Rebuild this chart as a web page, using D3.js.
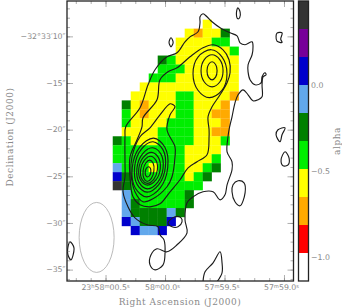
<!DOCTYPE html>
<html>
<head>
<meta charset="utf-8">
<script src="https://cdn.jsdelivr.net/npm/d3@7"></script>
<style>
  body { margin: 0; background: #fff; }
  text { fill: #8a8a8a; font-family: "DejaVu Sans", sans-serif; font-size: 7.8px; }
  .title { font-family: "DejaVu Serif", serif; font-size: 9px; letter-spacing: 0.55px; }
</style>
</head>
<body>
<script>
// spectral index map with radio contours

// alpha value of each map pixel, one row per declination step
var K = 0.4, B = 0.08, L = -0.08, D = -0.25, G = -0.4, Y = -0.57, O = -0.73, n = null;
var alphaRows = [
  [n, n, n, n, n, n, n, n, n, n, Y, n, n, n],
  [n, n, n, n, n, n, n, n, Y, O, Y, Y, D, n],
  [n, n, n, n, n, n, n, Y, Y, Y, Y, G, G, n],
  [n, n, n, n, n, n, n, Y, Y, Y, Y, Y, Y, G],
  [n, n, n, n, n, D, G, Y, Y, Y, Y, Y, Y, Y],
  [n, n, n, n, n, G, G, G, Y, Y, Y, Y, Y, Y],
  [n, n, n, n, G, G, G, Y, Y, Y, Y, Y, Y, Y],
  [n, n, n, Y, Y, Y, Y, Y, Y, Y, Y, Y, Y, Y],
  [n, n, Y, Y, Y, Y, Y, G, G, Y, Y, Y, Y, O],
  [n, D, Y, O, Y, Y, Y, G, G, Y, Y, Y, O, n],
  [n, G, Y, O, Y, Y, Y, G, G, Y, Y, O, O, n],
  [n, G, Y, Y, Y, Y, G, G, G, Y, Y, Y, O, n],
  [n, Y, Y, Y, Y, G, G, G, G, Y, Y, O, O, n],
  [D, G, Y, Y, Y, G, G, G, G, Y, Y, Y, G, n],
  [G, G, G, G, G, G, G, G, Y, Y, Y, Y, n, n],
  [G, G, G, G, G, G, G, G, Y, Y, Y, G, n, n],
  [L, G, G, G, Y, G, G, G, Y, Y, G, D, n, n],
  [B, D, G, G, G, G, G, G, Y, G, D, n, n, n],
  [K, D, G, G, G, G, G, G, G, G, n, n, n, n],
  [n, L, G, G, G, G, G, G, D, n, n, n, n, n],
  [n, L, D, G, G, G, G, G, D, n, n, n, n, n],
  [n, L, D, D, D, D, L, D, n, n, n, n, n, n],
  [n, B, L, D, D, D, B, n, n, n, n, n, n, n],
  [n, n, B, L, L, B, n, n, n, n, n, n, n, n]
];
var bandColors = ["#ffffff", "#ff0000", "#ffaa00", "#ffff00", "#00ee00", "#008000", "#62a8ec", "#0000cc", "#770099", "#333333"];
var alphaTicks = [0, -0.5, -1];

// contours: arcsec west of 58m00.0s, arcsec south of -32d33m
var contourOuter = [[-4.21,19.69],[-2.68,17.66],[-1.82,15.19],[-1.07,13.58],[0.21,12.19],[1.29,11.76],[2.14,10.58],[2.68,10.05],[3.54,9.51],[3.75,8.54],[3.75,7.9],[4.07,7.58],[4.5,7.9],[5.04,8.44],[5.9,9.08],[6.97,9.62],[7.72,9.94],[8.04,10.69],[8.58,10.9],[9.33,10.58],[9.43,11.12],[9.33,11.97],[8.9,13.05],[8.9,13.8],[9.11,14.65],[9.65,15.19],[10.29,14.98],[10.4,14.33],[10.72,13.9],[10.83,14.12],[10.51,14.33],[10.4,15.19],[10.4,16.48],[9.97,16.8],[9.43,16.91],[8.9,16.26],[8.36,15.73],[7.83,16.26],[7.5,17.12],[7.18,18.62],[6.86,20.01],[6.75,20.76],[6.65,22.37],[7.18,23.44],[7.18,24.3],[6.65,25.91],[6.43,26.98],[5.9,27.52],[5.15,26.66],[4.07,26.66],[3,27.2],[2.36,27.84],[2.14,29.66],[2.36,31.06],[1.29,32.34],[0.21,33.09],[-0.86,32.77],[-1.5,33.41],[-1.61,34.49],[-1.07,35.02],[-0.21,34.49],[0,33.2],[-0.11,31.81],[-0.54,31.27],[-0.75,30.41],[-1.93,30.2],[-3.22,29.45],[-3.97,28.27],[-4.5,26.66],[-4.29,25.05],[-4.29,23.55],[-4.29,20.76]];
var contourSecond = [[-2.36,18.73],[-0.86,16.8],[-0.54,14.65],[0.32,13.8],[1.29,13.37],[2.68,12.19],[4.07,11.22],[5.15,10.9],[6.22,11.44],[6.86,12.51],[6.97,13.9],[6.65,14.98],[5.9,16.26],[5.04,17.55],[4.61,18.62],[4.72,20.01],[4.72,20.76],[4.5,22.69],[3.43,23.44],[2.47,24.09],[1.61,25.37],[0.54,26.66],[-0.54,27.95],[-1.61,28.27],[-2.68,28.05],[-3.43,27.2],[-3.75,25.05],[-3.75,22.91],[-3,21.09],[-2.47,19.69]];
var contourFinger = [[0.86,17.33],[1.07,17.55],[0.54,18.41],[0.21,20.01],[1.07,21.84],[1.07,22.91],[0.75,25.05],[0.21,26.12],[-1.29,27.41],[-2.36,27.73],[-3.22,26.66],[-3.65,24.62],[-3.54,22.91],[-2.68,20.76],[-1.61,19.8],[-0.54,18.41],[0.54,17.23]];
var southRings = [
  [[-1.75,23.97],[-1.57,24.13],[-1.52,24.52],[-1.65,24.91],[-1.89,25.07],[-2.07,24.91],[-2.12,24.52],[-1.99,24.13]],
  [[-1.63,23.26],[-1.27,23.6],[-1.19,24.41],[-1.46,25.22],[-1.91,25.56],[-2.27,25.22],[-2.35,24.41],[-2.08,23.6]],
  [[-1.55,22.85],[-0.97,23.29],[-0.82,24.3],[-1.21,25.32],[-1.89,25.75],[-2.47,25.32],[-2.62,24.3],[-2.23,23.29]],
  [[-1.45,22.44],[-0.72,22.97],[-0.51,24.19],[-1,25.42],[-1.87,25.94],[-2.61,25.42],[-2.81,24.19],[-2.33,22.97]],
  [[-1.35,21.94],[-0.45,22.6],[-0.21,24.14],[-0.81,25.68],[-1.87,26.34],[-2.77,25.68],[-3.01,24.14],[-2.41,22.6]],
  [[-1.29,21.3],[-0.24,22.11],[0.04,24],[-0.67,25.89],[-1.93,26.7],[-2.98,25.89],[-3.26,24],[-2.55,22.11]],
  [[-1.23,20.9],[-0.03,21.85],[0.29,24.05],[-0.53,26.26],[-1.99,27.2],[-3.19,26.26],[-3.51,24.05],[-2.69,21.85]]
];
var northRings = [
  [[5.04,12.72],[5.42,13.01],[5.58,13.69],[5.42,14.37],[5.04,14.66],[4.66,14.37],[4.5,13.69],[4.66,13.01]],
  [[5.04,11.97],[5.87,12.49],[6.22,13.69],[5.87,14.89],[5.04,15.41],[4.21,14.89],[3.86,13.69],[4.21,12.49]],
  [[4.95,11.43],[6.1,12.2],[6.64,14],[6.1,15.8],[4.75,16.57],[3.55,15.8],[3,14],[3.55,12.2]]
];
var islands = [
  [[0.64,10.15],[0.87,10.63],[0.64,11.12],[0.43,10.63]],
  [[7.8,6.94],[8.05,7.4],[8,8],[7.8,8.11],[7.65,7.6]],
  [[12,9.65],[12.55,9.62],[12.4,10.3],[12.55,10.65],[12,10.5],[11.9,10]],
  [[12.86,19.8],[12.11,20.01],[11.9,20.55],[12.33,21.3],[12.54,20.55]],
  [[12.86,22.37],[13.29,23.02],[13.19,23.77],[12.65,23.87],[12.44,23.23]],
  [[7.83,25.48],[8.47,25.7],[8.58,26.77],[8.04,28.16],[7.5,27.73],[7.18,26.66],[7.29,25.91]],
  [[-10.18,32.02],[-9.76,32.66],[-10.08,33.95],[-10.4,33.41],[-10.4,32.56]],
  [[0.32,29.98],[1.07,29.34],[1.72,29.45],[1.82,29.88],[1.39,30.41],[0.75,30.41]]
];
var openContour = [[4.07,36.31],[4.29,35.24],[5.15,34.27],[5.9,33.09],[6.11,34.27],[6.11,35.34],[5.57,36.31]];

// axis ticks
var raTicks = [60.5, 60, 59.5, 59];
var raLabels = [["23", "h", "58", "m", "00.5", "s"], ["", "", "58", "m", "00.0", "s"], ["", "", "57", "m", "59.5", "s"], ["", "", "57", "m", "59.0", "s"]];
var decTicks = [10, 15, 20, 25, 30, 35];
var decLabels = ["\u221232\u00b033\u203210\u2033", "\u221215\u2033", "\u221220\u2033", "\u221225\u2033", "\u221230\u2033", "\u221235\u2033"];

var mapRa0 = 60.4395, pixelRa = 0.0756, mapDec0 = 8.21, pixelDec = 0.9614;
var beam = { ra: 60.575, dec: 31.55, raRadius: 0.147, decRadius: 3.75 };

var svg = d3.select(document.body).append("svg").attr("width", 342).attr("height", 308).style("display", "block");

var x = d3.scaleLinear().domain([60.824, 58.92]).range([67, 293.5]);
var y = d3.scaleLinear().domain([6.21, 36.22]).range([1, 281]);
var barY = d3.scaleLinear().domain([-1.14, 0.488]).range([281, 1]);
var color = d3.scaleQuantize().domain(barY.domain()).range(bandColors);

svg.append("clipPath").attr("id", "frame").append("rect")
  .attr("x", 67).attr("y", 1).attr("width", 226.5).attr("height", 280);

// map pixels
alphaRows.forEach(function (row, r) {
  row.forEach(function (v, c) {
    if (v === null) return;
    var x0 = x(mapRa0 - c * pixelRa), x1 = x(mapRa0 - (c + 1) * pixelRa);
    var y0 = y(mapDec0 + r * pixelDec), y1 = y(mapDec0 + (r + 1) * pixelDec);
    svg.append("rect")
      .attr("x", x0).attr("y", y0)
      .attr("width", x1 - x0 + 0.2).attr("height", y1 - y0 + 0.2)
      .attr("fill", color(v));
  });
});

// beam
svg.append("ellipse")
  .attr("cx", x(beam.ra)).attr("cy", y(beam.dec))
  .attr("rx", x(beam.ra - beam.raRadius) - x(beam.ra))
  .attr("ry", y(beam.dec + beam.decRadius) - y(beam.dec))
  .attr("fill", "none").attr("stroke", "#a8a8a8").attr("stroke-width", 0.8);

// contours
var px = function (d) { return x(60 - d[0] / 12.75); };
var py = function (d) { return y(d[1]); };
var closedLine = d3.line().x(px).y(py).curve(d3.curveCatmullRomClosed.alpha(0.5));
var openLine = d3.line().x(px).y(py).curve(d3.curveCatmullRom.alpha(0.5));
var g = svg.append("g").attr("clip-path", "url(#frame)")
  .attr("fill", "none").attr("stroke", "#1c1c1c").attr("stroke-width", 1.15);
g.selectAll(".closed")
  .data([contourOuter, contourSecond, contourFinger].concat(southRings, northRings, islands))
  .join("path").attr("class", "closed").attr("d", closedLine);
g.append("path").attr("d", openLine(openContour));

// axes, ticks point into the frame
function ticks(axis, values, size, transform) {
  var a = svg.append("g").attr("transform", transform)
    .call(axis.tickValues(values).tickSize(-size).tickFormat(""));
  a.select(".domain").remove();
  a.selectAll("line").attr("stroke", "#8c8c8c").attr("stroke-width", 0.7);
}
var raMinor = d3.range(60.75, 58.9, -0.125);
var decMinor = d3.range(7, 37, 1);
ticks(d3.axisBottom(x), raMinor, 3, "translate(0,281)");
ticks(d3.axisTop(x), raMinor, 3, "translate(0,1)");
ticks(d3.axisBottom(x), raTicks, 6, "translate(0,281)");
ticks(d3.axisTop(x), raTicks, 6, "translate(0,1)");
ticks(d3.axisLeft(y), decMinor, 3, "translate(67,0)");
ticks(d3.axisRight(y), decMinor, 3, "translate(293.5,0)");
ticks(d3.axisLeft(y), decTicks, 6, "translate(67,0)");
ticks(d3.axisRight(y), decTicks, 6, "translate(293.5,0)");

svg.selectAll(".declabel").data(decTicks).join("text")
  .attr("class", "declabel")
  .attr("x", 65.5).attr("y", function (d) { return y(d) + 2.8; })
  .attr("text-anchor", "end")
  .text(function (d, i) { return decLabels[i]; });

raTicks.forEach(function (t, i) {
  var label = svg.append("text").attr("x", x(t) - (i ? 2.5 : 0)).attr("y", 290).attr("text-anchor", "middle");
  raLabels[i].forEach(function (part, j) {
    if (!part) return;
    var sup = j % 2 === 1;
    label.append("tspan")
      .attr("dy", sup ? -2.5 : (j > 0 && raLabels[i][j - 1] ? 2.5 : 0))
      .style("font-size", sup ? "5.2px" : null)
      .text(part);
  });
});

svg.append("rect").attr("x", 67).attr("y", 1).attr("width", 226.5).attr("height", 280)
  .attr("fill", "none").attr("stroke", "#222").attr("stroke-width", 1.3);

// colour bar
svg.selectAll(".band").data(bandColors).join("rect")
  .attr("class", "band")
  .attr("x", 298.5).attr("width", 10)
  .attr("y", function (d) { return barY(color.invertExtent(d)[1]); })
  .attr("height", function (d) { var e = color.invertExtent(d); return barY(e[0]) - barY(e[1]); })
  .attr("fill", function (d) { return d; });
svg.append("rect").attr("x", 298.5).attr("y", 1).attr("width", 10).attr("height", 280)
  .attr("fill", "none").attr("stroke", "#222").attr("stroke-width", 1.3);
svg.selectAll(".barlabel").data(alphaTicks).join("text")
  .attr("class", "barlabel")
  .attr("x", 311).attr("y", function (d) { return barY(d) + 2.8; })
  .text(function (d) { return d3.format(".1f")(d).replace("-", "\u2212"); });

// titles
svg.append("text").attr("class", "title").attr("x", 180).attr("y", 305).attr("text-anchor", "middle")
  .text("Right Ascension (J2000)");
svg.append("text").attr("class", "title").attr("text-anchor", "middle")
  .attr("transform", "translate(13,137) rotate(-90)").text("Declination (J2000)");
svg.append("text").attr("class", "title").attr("text-anchor", "middle")
  .attr("transform", "translate(340,141) rotate(-90)").text("alpha");
</script>
</body>
</html>
